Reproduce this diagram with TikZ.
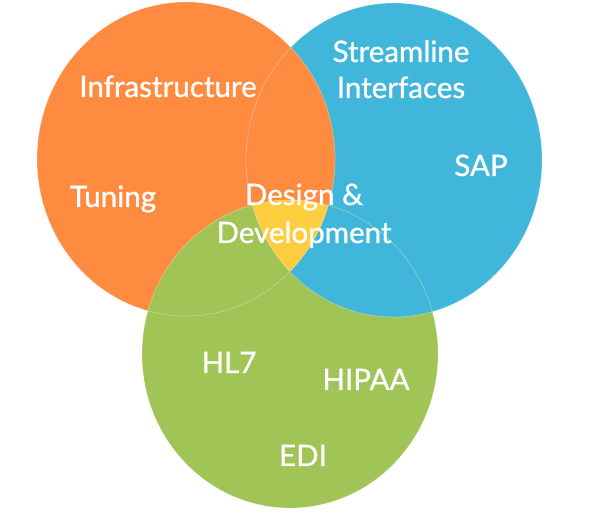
\documentclass[tikz,border=0pt]{standalone}
\usepackage{fontspec}
\setmainfont{Lato}
\newfontfamily\wordfont{Lato}[BoldFont=Lato, BoldFeatures={FakeBold=0.9}]
\usepackage{xcolor}
\definecolor{vennorange}{RGB}{255, 139, 64}
\definecolor{vennblue}{RGB}{64, 183, 218}
\definecolor{venngreen}{RGB}{160, 196, 86}
\definecolor{vennyellow}{RGB}{255, 206, 64}

\begin{document}
\begin{tikzpicture}[
      word/.style={text=white, font=\wordfont\bfseries\fontsize{21}{24}\selectfont, anchor=base, inner sep=0pt},
      rim/.style={draw=white, draw opacity=0.3, line width=0.5pt}
    ]
      \useasboundingbox (0, 0) rectangle (14.85, 12.825);

      \def\orangeset{(4.65, 8.85) ellipse [x radius=3.725, y radius=3.925]}
      \def\blueset{(9.85, 8.825) ellipse [x radius=3.7, y radius=3.925]}
      \def\greenset{(7.25, 3.975) ellipse [x radius=3.7, y radius=3.85]}

      \fill[vennorange] \orangeset;
      \fill[vennblue] \blueset;
      \fill[venngreen] \greenset;

      % overlaps: blue over green, orange over blue, yellow in the middle
      \begin{scope}
        \clip \blueset;
        \fill[vennblue] \greenset;
      \end{scope}
      \begin{scope}
        \clip \orangeset;
        \fill[vennorange] \blueset;
      \end{scope}
      \begin{scope}
        \clip \orangeset;
        \clip \blueset;
        \fill[vennyellow] \greenset;
      \end{scope}

      \path[rim] \orangeset;
      \path[rim] \blueset;
      \path[rim] \greenset;

      \node[word] (infra) at (4.2, 10.4) {Infrastructure};
      \node[word] (tuning) at (2.825, 7.65) {Tuning};
      \node[word] (stream) at (10.025, 11.275) {Streamline};
      \node[word] (iface) at (10.025, 10.375) {Interfaces};
      \node[word] (sap) at (12.025, 8.425) {SAP};
      \node[word] (design) at (7.6, 7.7) {Design \&};
      \node[word] (devel) at (7.6, 6.75) {Development};
      \node[word] (hl7) at (5.725, 3.5) {HL7};
      \node[word] (hipaa) at (9.15, 3.075) {HIPAA};
      \node[word] (edi) at (7.575, 1.175) {EDI};
    \end{tikzpicture}
\end{document}
